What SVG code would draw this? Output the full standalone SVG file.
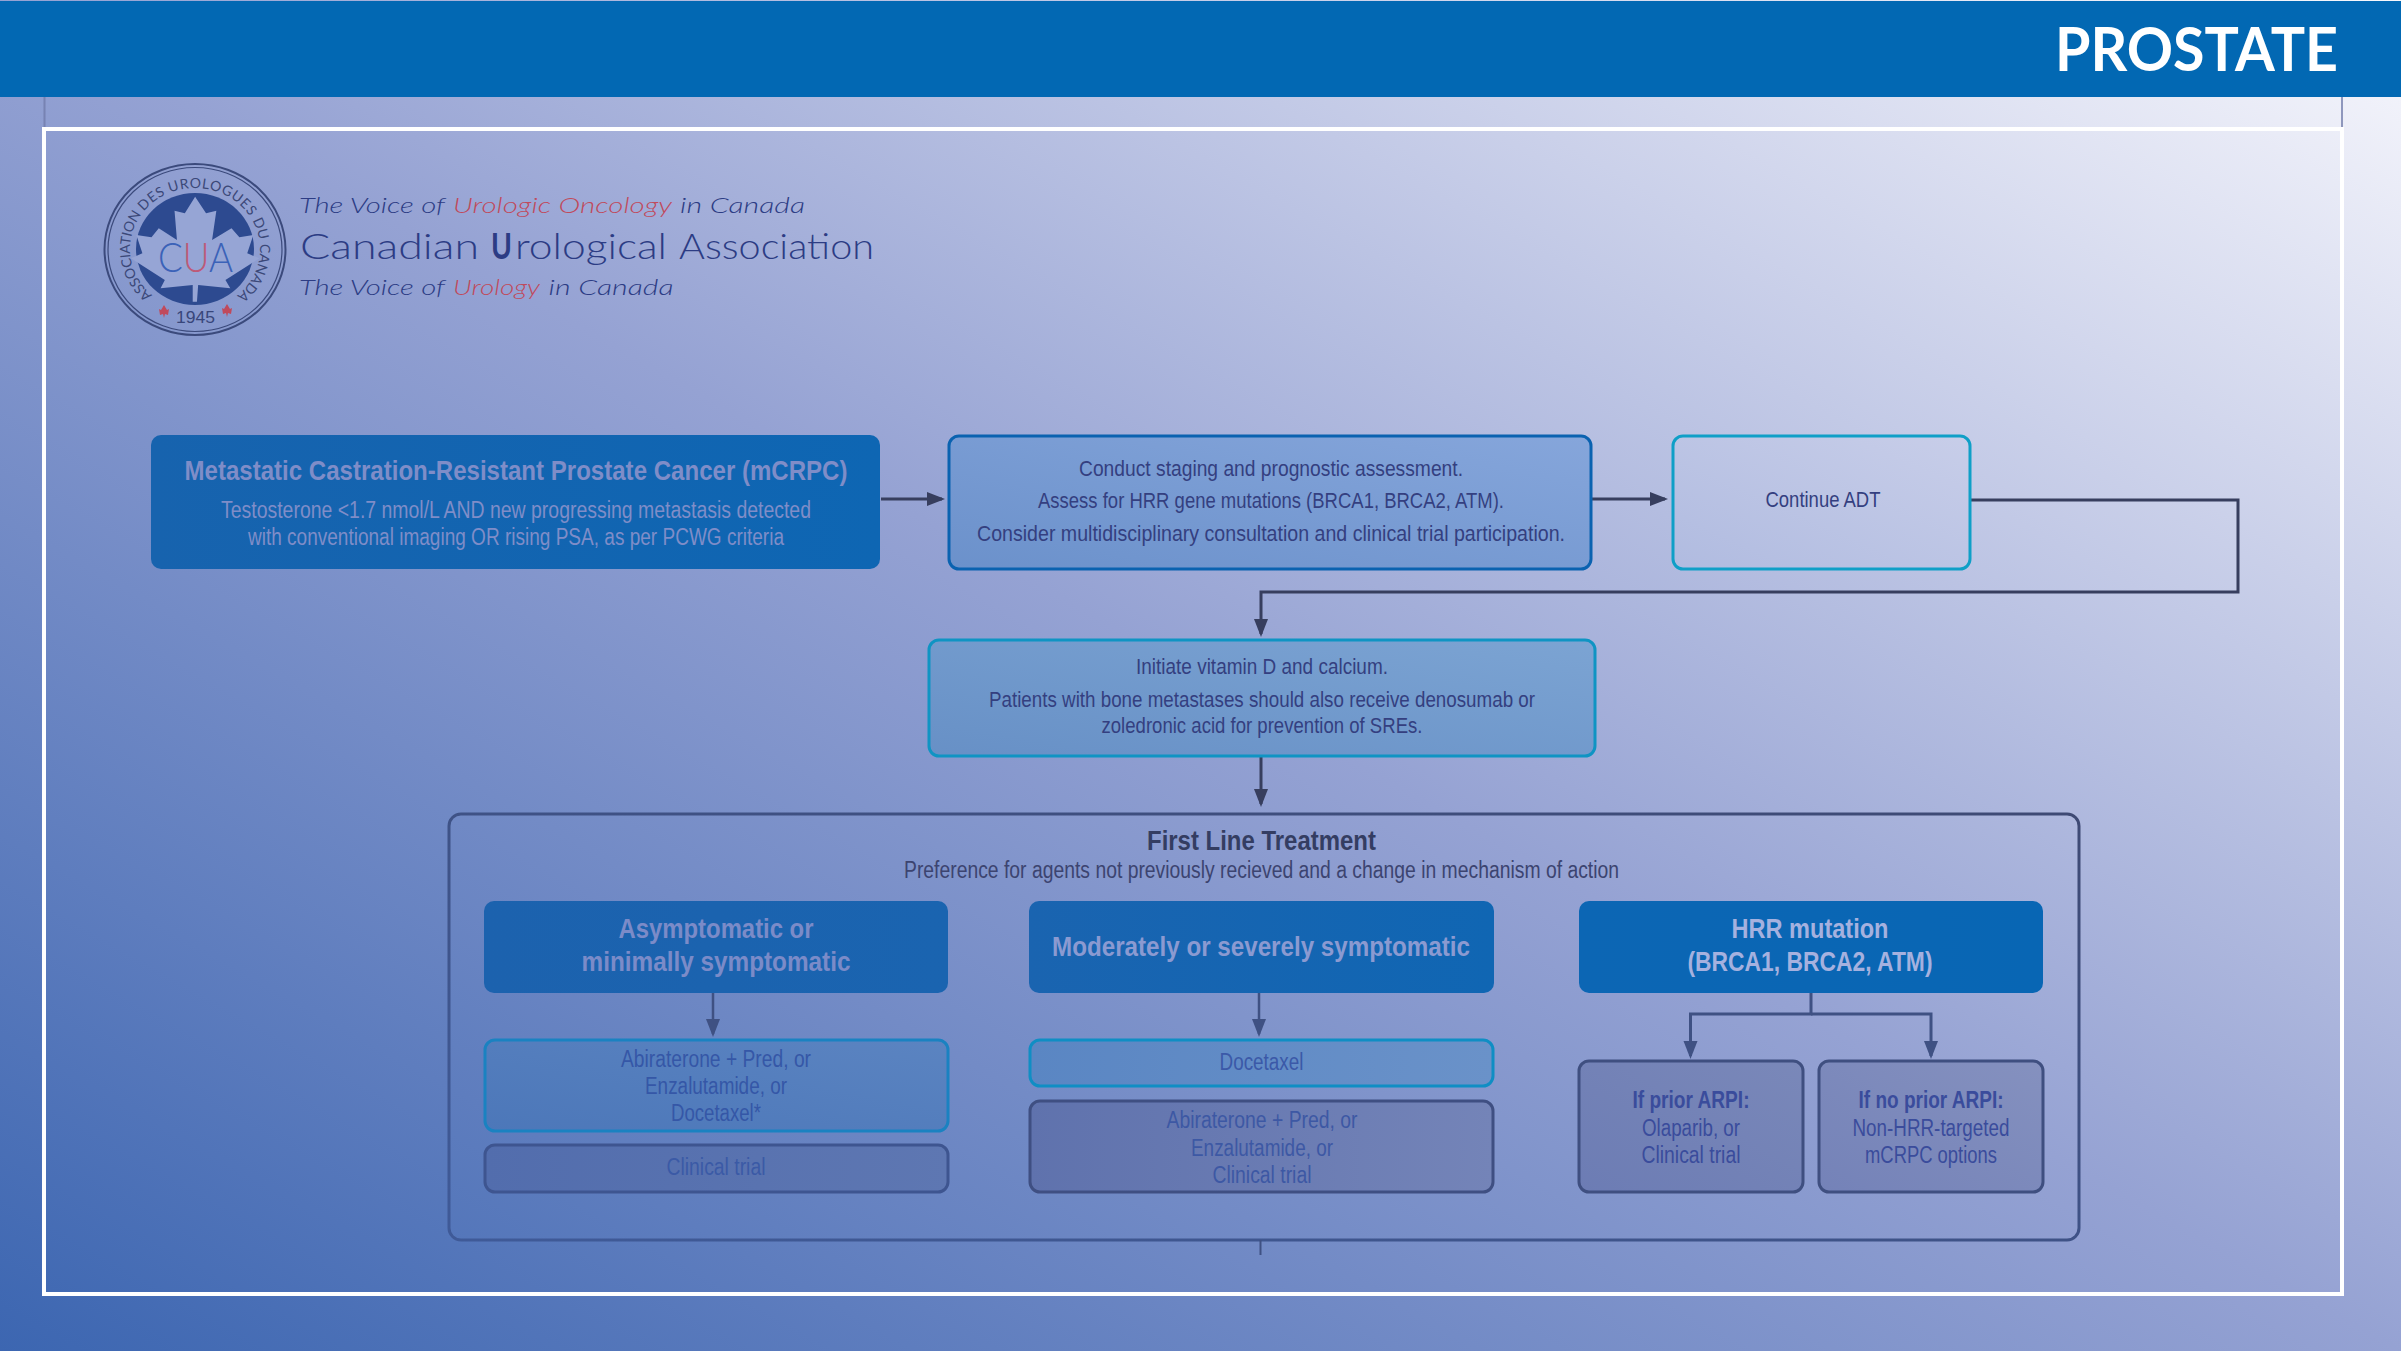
<svg xmlns="http://www.w3.org/2000/svg" width="2401" height="1351" viewBox="0 0 2401 1351">
<defs>
<linearGradient id="bg" x1="0" y1="1" x2="1" y2="0"><stop offset="0" stop-color="#3c66b1"/><stop offset=".5" stop-color="#95a2d3"/><stop offset="1" stop-color="#f8f8fd"/></linearGradient>
<linearGradient id="n1" x1="0" y1="0" x2="1" y2="0"><stop offset="0" stop-color="#1763ae"/><stop offset="1" stop-color="#0e66b3"/></linearGradient>
<linearGradient id="n2" x1="0" y1="1" x2="1" y2="0"><stop offset="0" stop-color="#6b91cb"/><stop offset="1" stop-color="#86a6db"/></linearGradient>
<linearGradient id="n3" x1="0" y1="1" x2="1" y2="0"><stop offset="0" stop-color="#b0bbe0"/><stop offset="1" stop-color="#c8cee9"/></linearGradient>
<linearGradient id="n4" x1="0" y1="1" x2="1" y2="0"><stop offset="0" stop-color="#6790c6"/><stop offset="1" stop-color="#7ca4d3"/></linearGradient>
<linearGradient id="bigS" x1="0" y1="1" x2="1" y2="0"><stop offset="0" stop-color="#3f5a98"/><stop offset="1" stop-color="#3e4a74"/></linearGradient>
<linearGradient id="a0" x1="0" y1="0" x2="1" y2="0"><stop offset="0" stop-color="#1c62ae"/><stop offset="1" stop-color="#1a64b0"/></linearGradient>
<linearGradient id="b0" x1="0" y1="0" x2="1" y2="0"><stop offset="0" stop-color="#1a64b0"/><stop offset="1" stop-color="#1066b3"/></linearGradient>
<linearGradient id="c0" x1="0" y1="0" x2="1" y2="0"><stop offset="0" stop-color="#0c66b4"/><stop offset="1" stop-color="#0866b4"/></linearGradient>
<linearGradient id="a1" x1="0" y1="1" x2="1" y2="0"><stop offset="0" stop-color="#4c77b9"/><stop offset="1" stop-color="#5b84c1"/></linearGradient>
<linearGradient id="a2" x1="0" y1="0" x2="1" y2="0"><stop offset="0" stop-color="#526dad"/><stop offset="1" stop-color="#5e77b2"/></linearGradient>
<linearGradient id="b1" x1="0" y1="0" x2="1" y2="0"><stop offset="0" stop-color="#5a86c3"/><stop offset="1" stop-color="#6a92c9"/></linearGradient>
<linearGradient id="b2" x1="0" y1="0" x2="1" y2="0"><stop offset="0" stop-color="#5f72ad"/><stop offset="1" stop-color="#7484b8"/></linearGradient>
<linearGradient id="c1" x1="0" y1="1" x2="1" y2="0"><stop offset="0" stop-color="#6c7cb4"/><stop offset="1" stop-color="#7a88b9"/></linearGradient>
<linearGradient id="c2" x1="0" y1="1" x2="1" y2="0"><stop offset="0" stop-color="#7482b8"/><stop offset="1" stop-color="#8591bf"/></linearGradient>
<marker id="ah" markerUnits="userSpaceOnUse" markerWidth="20" markerHeight="16" refX="15" refY="7" orient="auto"><path d="M0 0L18 7L0 14z" fill="#373e5e"/></marker>
<marker id="al" markerUnits="userSpaceOnUse" markerWidth="20" markerHeight="16" refX="15" refY="7" orient="auto"><path d="M0 0L18 7L0 14z" fill="#3f5183"/></marker>
<path id="arcL" d="M152.400 295A65 61 0 0 1 141.100 214.900"/>
<path id="arcT" d="M143.800 211.400A65 61 0 0 1 251.300 218.500"/>
<path id="arcR" d="M252.400 220.400A65 61 0 0 1 237.600 295"/>
</defs>
<style>
text{font-family:"Liberation Sans",Arial,sans-serif;text-anchor:middle}
.h{font-size:28.500px;font-weight:700}
.s{font-size:23px}
.p{font-size:22px;fill:#343f80}
.box{stroke-width:3}
.logo{font-family:Lato,"Liberation Sans",sans-serif;font-weight:300;text-anchor:start}
.it{font-size:22.500px;font-style:italic;fill:#2c3c84}
.red{fill:#c04a5c}
.ring{font-family:Lato,"Liberation Sans",sans-serif;font-size:14px;fill:#3b4878;text-anchor:start}
.con{fill:none;stroke:#373e5e;stroke-width:3}
.cl{fill:none;stroke:#3f5183;stroke-width:2.500}
</style>
<rect id="background" width="2401" height="1351" fill="url(#bg)"/>
<path d="M44.500 97V127M2342 97V127" stroke="#6f79a8" stroke-width="2" fill="none" opacity=".75"/>
<rect id="frame" x="44" y="129" width="2298" height="1165" fill="none" stroke="#fff" stroke-width="4"/>
<g id="header"><rect y="1" width="2401" height="96" fill="#0268b3"/>
<text x="2196.500" y="70.500" textLength="283" lengthAdjust="spacingAndGlyphs" style="font-family:Lato,'Liberation Sans',sans-serif;font-size:62px;font-weight:700;fill:#fff">PROSTATE</text></g>
<g id="logo">
<g fill="none" stroke="#3b4a7c"><ellipse cx="195" cy="249.500" rx="90.500" ry="85.500" stroke-width="2"/><ellipse cx="195" cy="249.500" rx="87" ry="82" stroke-width="1.200"/></g>
<ellipse cx="195" cy="249" rx="59" ry="56" fill="#2d4a90"/>
<path transform="scale(.606 .3333)" fill="#96a5d5" d="M322 590L340 640L357 632L350 720L382 685L395 712L418 705L408 760L428 775L372 840L380 865L327 855L325 905L318 905L318 855L265 865L272 840L216 775L235 760L225 705L250 712L262 685L292 720L288 632L305 640z"/>
<text class="ring"><textPath href="#arcL" textLength="90" lengthAdjust="spacing">ASSOCIATION</textPath></text>
<text class="ring"><textPath href="#arcT" textLength="122" lengthAdjust="spacing">DES UROLOGUES</textPath></text>
<text class="ring"><textPath href="#arcR" textLength="84" lengthAdjust="spacing">DU CANADA</textPath></text>
<text x="195.500" y="323" textLength="39" lengthAdjust="spacingAndGlyphs" style="font-size:17px;fill:#38467a">1945</text>
<path class="red" d="M164 305L167 310L169 309L168 315L165 314L164 318L163 314L160 315L159 309L161 310zM227 304L230 309L232 308L231 314L228 313L227 317L226 313L223 314L222 308L224 309z"/>
<text x="195.500" y="272" textLength="75" lengthAdjust="spacingAndGlyphs" fill="#3b62b8" style="font-family:Lato,'Liberation Sans',sans-serif;font-size:42px;font-weight:300">C<tspan fill="#bd5a78">U</tspan>A</text>
<text class="logo it" y="213"><tspan x="299" textLength="146" lengthAdjust="spacingAndGlyphs">The Voice of</tspan><tspan class="red" x="453" textLength="219" lengthAdjust="spacingAndGlyphs">Urologic Oncology</tspan><tspan x="680" textLength="125" lengthAdjust="spacingAndGlyphs">in Canada</tspan></text>
<text class="logo" y="259" style="font-size:36px;fill:#2c3c84"><tspan x="300" textLength="179" lengthAdjust="spacingAndGlyphs">Canadian</tspan><tspan x="491" textLength="21" lengthAdjust="spacingAndGlyphs" style="font-weight:700">U</tspan><tspan x="515" textLength="152" lengthAdjust="spacingAndGlyphs">rological</tspan><tspan x="679" textLength="195" lengthAdjust="spacingAndGlyphs">Association</tspan></text>
<text class="logo it" y="295"><tspan x="299" textLength="146" lengthAdjust="spacingAndGlyphs">The Voice of</tspan><tspan class="red" x="453" textLength="87" lengthAdjust="spacingAndGlyphs">Urology</tspan><tspan x="548.500" textLength="125" lengthAdjust="spacingAndGlyphs">in Canada</tspan></text>
</g>
<g id="first-line"><rect x="449" y="814" width="1630" height="426" rx="12" fill="none" stroke="url(#bigS)" stroke-width="3"/>
<text x="1261.500" y="850" class="h" textLength="229" lengthAdjust="spacingAndGlyphs" fill="#343d62">First Line Treatment</text>
<text x="1261.500" y="878" class="s" textLength="715" lengthAdjust="spacingAndGlyphs" fill="#3c4470">Preference for agents not previously recieved and a change in mechanism of action</text></g>
<g id="connectors">
<path class="con" marker-end="url(#ah)" d="M881 499H942"/>
<path class="con" marker-end="url(#ah)" d="M1591 499H1665"/>
<path class="con" marker-end="url(#ah)" d="M1971 500H2238V592H1261V634"/>
<path class="con" marker-end="url(#ah)" d="M1261 757V804"/>
<path class="cl" marker-end="url(#al)" d="M713 993V1034"/>
<path class="cl" marker-end="url(#al)" d="M1259 993V1034"/>
<path class="cl" style="stroke-width:3" marker-end="url(#al)" d="M1811 993V1014H1690.500V1056"/>
<path class="cl" style="stroke-width:3" marker-end="url(#al)" d="M1811 1014H1931V1056"/>
<path class="cl" style="stroke-width:2" d="M1260.500 1240V1255"/>
</g>
<g id="node-mcrpc"><rect x="151" y="435" width="729" height="134" rx="10" fill="url(#n1)"/>
<g fill="#7f8dc8"><text x="516" y="480" class="h" textLength="663" lengthAdjust="spacingAndGlyphs">Metastatic Castration-Resistant Prostate Cancer (mCRPC)</text>
<text x="516" y="518" class="s" textLength="590" lengthAdjust="spacingAndGlyphs">Testosterone &lt;1.7 nmol/L AND new progressing metastasis detected</text>
<text x="516" y="545" class="s" textLength="536" lengthAdjust="spacingAndGlyphs">with conventional imaging OR rising PSA, as per PCWG criteria</text></g></g>
<g id="node-staging"><rect class="box" x="949" y="436" width="642" height="133" rx="10" fill="url(#n2)" stroke="#0a62b0"/>
<text x="1271" y="476" class="p" textLength="384" lengthAdjust="spacingAndGlyphs">Conduct staging and prognostic assessment.</text>
<text x="1271" y="508" class="p" textLength="466" lengthAdjust="spacingAndGlyphs">Assess for HRR gene mutations (BRCA1, BRCA2, ATM).</text>
<text x="1271" y="541" class="p" textLength="588" lengthAdjust="spacingAndGlyphs">Consider multidisciplinary consultation and clinical trial participation.</text></g>
<g id="node-adt"><rect class="box" x="1673" y="436" width="297" height="133" rx="10" fill="url(#n3)" stroke="#0f9fc7"/>
<text x="1823" y="507" class="p" textLength="115" lengthAdjust="spacingAndGlyphs">Continue ADT</text></g>
<g id="node-vitamin"><rect class="box" x="929" y="640" width="666" height="116" rx="10" fill="url(#n4)" stroke="#0f94c3"/>
<text x="1262" y="674" class="p" textLength="252" lengthAdjust="spacingAndGlyphs">Initiate vitamin D and calcium.</text>
<text x="1262" y="707" class="p" textLength="546" lengthAdjust="spacingAndGlyphs">Patients with bone metastases should also receive denosumab or</text>
<text x="1262" y="733" class="p" textLength="321" lengthAdjust="spacingAndGlyphs">zoledronic acid for prevention of SREs.</text></g>
<g id="node-asym"><rect x="484" y="901" width="464" height="92" rx="10" fill="url(#a0)"/>
<g fill="#7b8bc8"><text x="716" y="938" class="h" textLength="195" lengthAdjust="spacingAndGlyphs">Asymptomatic or</text>
<text x="716" y="971" class="h" textLength="269" lengthAdjust="spacingAndGlyphs">minimally symptomatic</text></g></g>
<g id="node-mod"><rect x="1029" y="901" width="465" height="92" rx="10" fill="url(#b0)"/>
<text x="1261" y="956" class="h" textLength="418" lengthAdjust="spacingAndGlyphs" fill="#8b9ad1">Moderately or severely symptomatic</text></g>
<g id="node-hrr"><rect x="1579" y="901" width="464" height="92" rx="10" fill="url(#c0)"/>
<g fill="#a5b1df"><text x="1810" y="938" class="h" textLength="157" lengthAdjust="spacingAndGlyphs">HRR mutation</text>
<text x="1810" y="971" class="h" textLength="245" lengthAdjust="spacingAndGlyphs">(BRCA1, BRCA2, ATM)</text></g></g>
<g id="node-a1"><rect class="box" x="485" y="1040" width="463" height="91" rx="10" fill="url(#a1)" stroke="#1a82c1"/>
<g fill="#3557a7"><text x="716" y="1067" class="s" textLength="190" lengthAdjust="spacingAndGlyphs">Abiraterone + Pred, or</text>
<text x="716" y="1094" class="s" textLength="142" lengthAdjust="spacingAndGlyphs">Enzalutamide, or</text>
<text x="716" y="1121" class="s" textLength="90" lengthAdjust="spacingAndGlyphs">Docetaxel*</text></g></g>
<g id="node-a2"><rect class="box" x="485" y="1145" width="463" height="47" rx="10" fill="url(#a2)" stroke="#3e5590"/>
<text x="716" y="1175" class="s" textLength="99" lengthAdjust="spacingAndGlyphs" fill="#3b5aa6">Clinical trial</text></g>
<g id="node-b1"><rect class="box" x="1030" y="1040" width="463" height="46" rx="10" fill="url(#b1)" stroke="#0f8ec4"/>
<text x="1261.500" y="1070" class="s" textLength="84" lengthAdjust="spacingAndGlyphs" fill="#3b59a8">Docetaxel</text></g>
<g id="node-b2"><rect class="box" x="1030" y="1101" width="463" height="91" rx="10" fill="url(#b2)" stroke="#3f4f82"/>
<g fill="#3d58a4"><text x="1262" y="1128" class="s" textLength="191" lengthAdjust="spacingAndGlyphs">Abiraterone + Pred, or</text>
<text x="1262" y="1156" class="s" textLength="142" lengthAdjust="spacingAndGlyphs">Enzalutamide, or</text>
<text x="1262" y="1183" class="s" textLength="99" lengthAdjust="spacingAndGlyphs">Clinical trial</text></g></g>
<g id="node-c1"><rect class="box" x="1579" y="1061" width="224" height="131" rx="10" fill="url(#c1)" stroke="#3f4f80"/>
<g fill="#3a4c9c"><text x="1691" y="1108" class="s" font-weight="700" textLength="117" lengthAdjust="spacingAndGlyphs">If prior ARPI:</text>
<text x="1691" y="1136" class="s" textLength="98" lengthAdjust="spacingAndGlyphs">Olaparib, or</text>
<text x="1691" y="1163" class="s" textLength="99" lengthAdjust="spacingAndGlyphs">Clinical trial</text></g></g>
<g id="node-c2"><rect class="box" x="1819" y="1061" width="224" height="131" rx="10" fill="url(#c2)" stroke="#3f4f80"/>
<g fill="#3a4c9c"><text x="1931" y="1108" class="s" font-weight="700" textLength="145" lengthAdjust="spacingAndGlyphs">If no prior ARPI:</text>
<text x="1931" y="1136" class="s" textLength="157" lengthAdjust="spacingAndGlyphs">Non-HRR-targeted</text>
<text x="1931" y="1163" class="s" textLength="132" lengthAdjust="spacingAndGlyphs">mCRPC options</text></g></g>
</svg>
